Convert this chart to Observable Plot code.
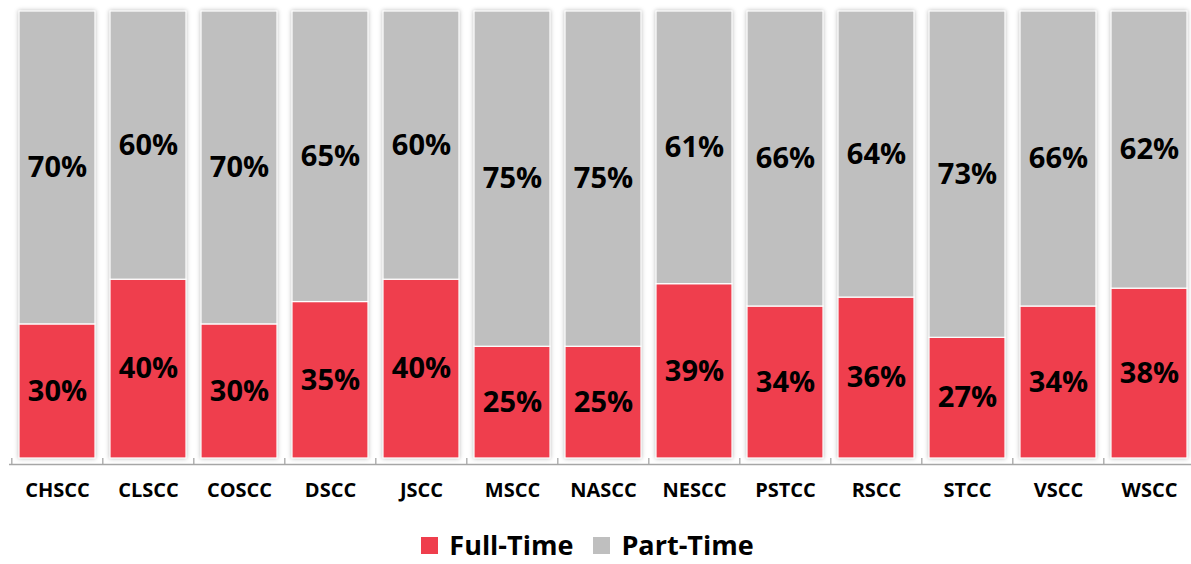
<!DOCTYPE html>
<html>
<head>
<meta charset="utf-8">
<script src="https://cdn.jsdelivr.net/npm/d3@7"></script>
<script src="https://cdn.jsdelivr.net/npm/@observablehq/plot@0.6"></script>
<style>
  html, body { margin: 0; padding: 0; background: #fff; }
  body { width: 1191px; position: relative; font-family: "Open Sans", sans-serif; }
  #chart svg { display: block; overflow: visible; }
  g[aria-label="bar"] { filter: drop-shadow(0 0 2px rgba(0,0,0,0.28)); }
  #legend { display: flex; justify-content: center; align-items: center; margin-top: 20px; font-weight: bold; font-size: 27px; line-height: 30px; height: 30px; color: #000; padding-right: 16px; }
  #legend .item { display: flex; align-items: center; margin: 0 10px; }
  #legend .sw { width: 17px; height: 17px; margin-right: 11px; }
</style>
</head>
<body>
<div id="chart"></div>
<div id="legend"></div>
<script>
const categories = ["CHSCC","CLSCC","COSCC","DSCC","JSCC","MSCC","NASCC","NESCC","PSTCC","RSCC","STCC","VSCC","WSCC"];
const fullTime = [30,40,30,35,40,25,25,39,34,36,27,34,38];
const partTime = [70,60,70,65,60,75,75,61,66,64,73,66,62];
const seriesNames = ["Full-Time","Part-Time"];
const seriesColors = ["#EF3E4D","#BFBFBF"];

const data = [];
categories.forEach((c, i) => data.push({cat: c, type: seriesNames[0], value: fullTime[i]}));
categories.forEach((c, i) => data.push({cat: c, type: seriesNames[1], value: partTime[i]}));

const xRange = [9, 1197];
const step = (xRange[1] - xRange[0]) / categories.length;

const chart = Plot.plot({
  width: 1191,
  height: 510,
  marginTop: 11,
  marginBottom: 52,
  marginLeft: 9,
  marginRight: 0,
  style: {fontFamily: "'Open Sans', sans-serif", color: "#000", background: "transparent"},
  x: {domain: categories, range: xRange, paddingInner: 0.16, paddingOuter: 0.08, align: 0.5, label: null},
  y: {domain: [0, 100], axis: null},
  color: {domain: seriesNames, range: seriesColors},
  marks: [
    Plot.barY(data, Plot.stackY({x: "cat", y: "value", z: "type", fill: "type", stroke: "#fff", strokeWidth: 1.2, order: seriesNames})),
    Plot.text(data, Plot.stackY({x: "cat", y: "value", z: "type", order: seriesNames, text: d => d.value + "%", fontSize: 29, fontWeight: "bold", fill: "#000"})),
    Plot.ruleY([0], {dy: 6, stroke: "#a6a6a6", strokeWidth: 1.3}),
    Plot.axisX({tickSize: 7, text: null, dx: -step / 2, dy: 0, stroke: "#a6a6a6", strokeWidth: 1.3}),
    Plot.axisX({tickSize: 0, tickPadding: 24, fontSize: 20, fontWeight: "bold", fill: "#000", label: null})
  ]
});
document.getElementById("chart").appendChild(chart);

const legend = document.getElementById("legend");
seriesNames.forEach((n, i) => {
  const item = document.createElement("div");
  item.className = "item";
  const sw = document.createElement("div");
  sw.className = "sw";
  sw.style.background = seriesColors[i];
  const t = document.createElement("span");
  t.textContent = n;
  item.appendChild(sw);
  item.appendChild(t);
  legend.appendChild(item);
});
</script>
</body>
</html>
